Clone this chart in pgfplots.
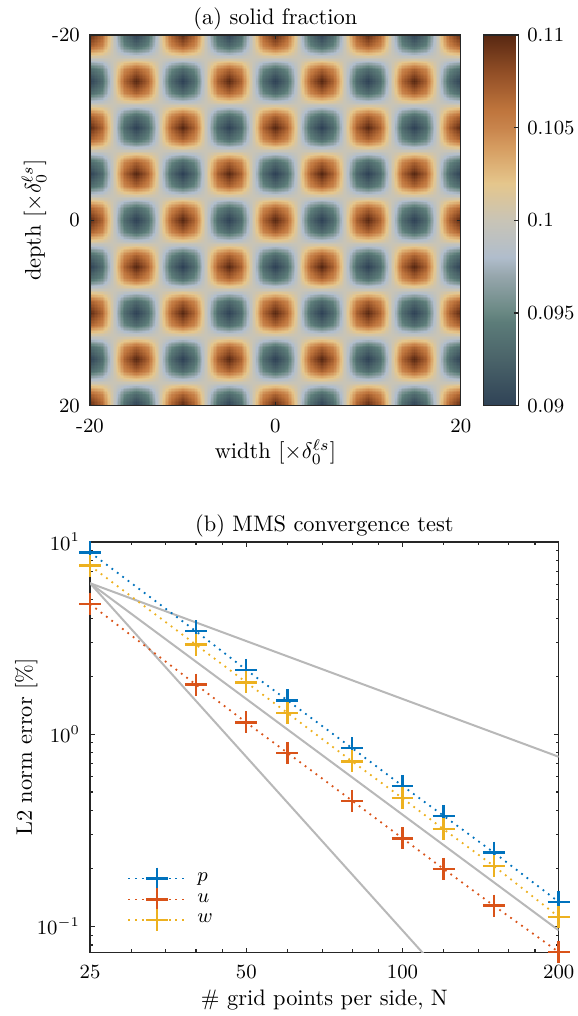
\documentclass[border=0pt]{standalone}
\usepackage{pgfplots}
\usepgfplotslibrary{patchplots}
\pgfplotsset{compat=1.18}
\definecolor{axgray}{RGB}{38,38,38}
\definecolor{mblue}{RGB}{0,114,189}
\definecolor{mred}{RGB}{217,83,25}
\definecolor{myel}{RGB}{237,177,32}
\definecolor{refgray}{RGB}{184,184,184}
\pgfplotsset{colormap={solidmap}{
 rgb255(0pt)=(47,66,86);
 rgb255(5pt)=(74,99,105);
 rgb255(9pt)=(92,124,121);
 rgb255(10pt)=(104,135,130);
 rgb255(14pt)=(150,166,172);
 rgb255(16pt)=(176,189,204);
 rgb255(20pt)=(200,196,182);
 rgb255(24pt)=(229,198,140);
 rgb255(28pt)=(213,155,95);
 rgb255(30pt)=(200,132,76);
 rgb255(32pt)=(190,116,60);
 rgb255(36pt)=(145,78,38);
 rgb255(40pt)=(88,40,18)
}}
\begin{document}
\begin{tikzpicture}
\path[use as bounding box] (0,0) rectangle (257.6pt,453.5pt);
\begin{axis}[
  at={(40.18pt,272.4pt)}, anchor=south west,
  scale only axis, width=165.5pt, height=165.5pt,
  xmin=0, xmax=32, ymin=0, ymax=32, y dir=reverse, enlargelimits=false,
  axis on top,
  xtick={0,16,32}, xticklabels={-20,0,20},
  ytick={0,16,32}, yticklabels={-20,0,20},
  tick align=inside, major tick length=1.65pt,
  tick label style={font=\small},
  xticklabel style={anchor=base, yshift=-11.8pt},
  yticklabel style={anchor=east, xshift=-1pt},
  axis line style={draw=axgray, line width=0.6pt},
  every tick/.style={draw=axgray, line width=0.5pt},
  title={(a) solid fraction},
  every axis title/.style={at={(axis description cs:0.5,1)}, anchor=base, yshift=4.8pt, inner sep=0pt},
  xlabel={width [$\times\delta_0^{\ell s}$]},
  xlabel style={at={(axis description cs:0.5,0)}, anchor=base, yshift=-23.6pt, inner sep=0pt},
  ylabel={depth [$\times\delta_0^{\ell s}$]},
  ylabel style={at={(axis description cs:-0.1329,0.5)}, anchor=base, inner sep=0pt},
  colormap name=solidmap,
  point meta min=0.09, point meta max=0.11,
  colorbar,
  colorbar style={
    at={(parent axis.north east)}, anchor=north west, xshift=1.6pt,
    scale only axis, width=15.6pt, height=165.5pt,
    ytick={0.09,0.095,0.1,0.105,0.11},
    yticklabels={0.09,0.095,0.1,0.105,0.11},
    ytick pos=right, yticklabel pos=right,
    tick align=inside, major tick length=1.8pt,
    yticklabel style={font=\small, anchor=west, xshift=0.4pt},
    axis line style={draw=axgray, line width=0.5pt},
    every tick/.style={draw=axgray, line width=0.5pt},
  },
]
\addplot[surf, shader=interp, patch type=bilinear, mesh/cols=33, point meta=explicit] table[x=x, y=y, meta=z] {
x y z
0 0 0.11
1 0 0.10707
2 0 0.1
3 0 0.09293
4 0 0.09
5 0 0.09293
6 0 0.1
7 0 0.10707
8 0 0.11
9 0 0.10707
10 0 0.1
11 0 0.09293
12 0 0.09
13 0 0.09293
14 0 0.1
15 0 0.10707
16 0 0.11
17 0 0.10707
18 0 0.1
19 0 0.09293
20 0 0.09
21 0 0.09293
22 0 0.1
23 0 0.10707
24 0 0.11
25 0 0.10707
26 0 0.1
27 0 0.09293
28 0 0.09
29 0 0.09293
30 0 0.1
31 0 0.10707
32 0 0.11

0 1 0.10707
1 1 0.105
2 1 0.1
3 1 0.095
4 1 0.09293
5 1 0.095
6 1 0.1
7 1 0.105
8 1 0.10707
9 1 0.105
10 1 0.1
11 1 0.095
12 1 0.09293
13 1 0.095
14 1 0.1
15 1 0.105
16 1 0.10707
17 1 0.105
18 1 0.1
19 1 0.095
20 1 0.09293
21 1 0.095
22 1 0.1
23 1 0.105
24 1 0.10707
25 1 0.105
26 1 0.1
27 1 0.095
28 1 0.09293
29 1 0.095
30 1 0.1
31 1 0.105
32 1 0.10707

0 2 0.1
1 2 0.1
2 2 0.1
3 2 0.1
4 2 0.1
5 2 0.1
6 2 0.1
7 2 0.1
8 2 0.1
9 2 0.1
10 2 0.1
11 2 0.1
12 2 0.1
13 2 0.1
14 2 0.1
15 2 0.1
16 2 0.1
17 2 0.1
18 2 0.1
19 2 0.1
20 2 0.1
21 2 0.1
22 2 0.1
23 2 0.1
24 2 0.1
25 2 0.1
26 2 0.1
27 2 0.1
28 2 0.1
29 2 0.1
30 2 0.1
31 2 0.1
32 2 0.1

0 3 0.09293
1 3 0.095
2 3 0.1
3 3 0.105
4 3 0.10707
5 3 0.105
6 3 0.1
7 3 0.095
8 3 0.09293
9 3 0.095
10 3 0.1
11 3 0.105
12 3 0.10707
13 3 0.105
14 3 0.1
15 3 0.095
16 3 0.09293
17 3 0.095
18 3 0.1
19 3 0.105
20 3 0.10707
21 3 0.105
22 3 0.1
23 3 0.095
24 3 0.09293
25 3 0.095
26 3 0.1
27 3 0.105
28 3 0.10707
29 3 0.105
30 3 0.1
31 3 0.095
32 3 0.09293

0 4 0.09
1 4 0.09293
2 4 0.1
3 4 0.10707
4 4 0.11
5 4 0.10707
6 4 0.1
7 4 0.09293
8 4 0.09
9 4 0.09293
10 4 0.1
11 4 0.10707
12 4 0.11
13 4 0.10707
14 4 0.1
15 4 0.09293
16 4 0.09
17 4 0.09293
18 4 0.1
19 4 0.10707
20 4 0.11
21 4 0.10707
22 4 0.1
23 4 0.09293
24 4 0.09
25 4 0.09293
26 4 0.1
27 4 0.10707
28 4 0.11
29 4 0.10707
30 4 0.1
31 4 0.09293
32 4 0.09

0 5 0.09293
1 5 0.095
2 5 0.1
3 5 0.105
4 5 0.10707
5 5 0.105
6 5 0.1
7 5 0.095
8 5 0.09293
9 5 0.095
10 5 0.1
11 5 0.105
12 5 0.10707
13 5 0.105
14 5 0.1
15 5 0.095
16 5 0.09293
17 5 0.095
18 5 0.1
19 5 0.105
20 5 0.10707
21 5 0.105
22 5 0.1
23 5 0.095
24 5 0.09293
25 5 0.095
26 5 0.1
27 5 0.105
28 5 0.10707
29 5 0.105
30 5 0.1
31 5 0.095
32 5 0.09293

0 6 0.1
1 6 0.1
2 6 0.1
3 6 0.1
4 6 0.1
5 6 0.1
6 6 0.1
7 6 0.1
8 6 0.1
9 6 0.1
10 6 0.1
11 6 0.1
12 6 0.1
13 6 0.1
14 6 0.1
15 6 0.1
16 6 0.1
17 6 0.1
18 6 0.1
19 6 0.1
20 6 0.1
21 6 0.1
22 6 0.1
23 6 0.1
24 6 0.1
25 6 0.1
26 6 0.1
27 6 0.1
28 6 0.1
29 6 0.1
30 6 0.1
31 6 0.1
32 6 0.1

0 7 0.10707
1 7 0.105
2 7 0.1
3 7 0.095
4 7 0.09293
5 7 0.095
6 7 0.1
7 7 0.105
8 7 0.10707
9 7 0.105
10 7 0.1
11 7 0.095
12 7 0.09293
13 7 0.095
14 7 0.1
15 7 0.105
16 7 0.10707
17 7 0.105
18 7 0.1
19 7 0.095
20 7 0.09293
21 7 0.095
22 7 0.1
23 7 0.105
24 7 0.10707
25 7 0.105
26 7 0.1
27 7 0.095
28 7 0.09293
29 7 0.095
30 7 0.1
31 7 0.105
32 7 0.10707

0 8 0.11
1 8 0.10707
2 8 0.1
3 8 0.09293
4 8 0.09
5 8 0.09293
6 8 0.1
7 8 0.10707
8 8 0.11
9 8 0.10707
10 8 0.1
11 8 0.09293
12 8 0.09
13 8 0.09293
14 8 0.1
15 8 0.10707
16 8 0.11
17 8 0.10707
18 8 0.1
19 8 0.09293
20 8 0.09
21 8 0.09293
22 8 0.1
23 8 0.10707
24 8 0.11
25 8 0.10707
26 8 0.1
27 8 0.09293
28 8 0.09
29 8 0.09293
30 8 0.1
31 8 0.10707
32 8 0.11

0 9 0.10707
1 9 0.105
2 9 0.1
3 9 0.095
4 9 0.09293
5 9 0.095
6 9 0.1
7 9 0.105
8 9 0.10707
9 9 0.105
10 9 0.1
11 9 0.095
12 9 0.09293
13 9 0.095
14 9 0.1
15 9 0.105
16 9 0.10707
17 9 0.105
18 9 0.1
19 9 0.095
20 9 0.09293
21 9 0.095
22 9 0.1
23 9 0.105
24 9 0.10707
25 9 0.105
26 9 0.1
27 9 0.095
28 9 0.09293
29 9 0.095
30 9 0.1
31 9 0.105
32 9 0.10707

0 10 0.1
1 10 0.1
2 10 0.1
3 10 0.1
4 10 0.1
5 10 0.1
6 10 0.1
7 10 0.1
8 10 0.1
9 10 0.1
10 10 0.1
11 10 0.1
12 10 0.1
13 10 0.1
14 10 0.1
15 10 0.1
16 10 0.1
17 10 0.1
18 10 0.1
19 10 0.1
20 10 0.1
21 10 0.1
22 10 0.1
23 10 0.1
24 10 0.1
25 10 0.1
26 10 0.1
27 10 0.1
28 10 0.1
29 10 0.1
30 10 0.1
31 10 0.1
32 10 0.1

0 11 0.09293
1 11 0.095
2 11 0.1
3 11 0.105
4 11 0.10707
5 11 0.105
6 11 0.1
7 11 0.095
8 11 0.09293
9 11 0.095
10 11 0.1
11 11 0.105
12 11 0.10707
13 11 0.105
14 11 0.1
15 11 0.095
16 11 0.09293
17 11 0.095
18 11 0.1
19 11 0.105
20 11 0.10707
21 11 0.105
22 11 0.1
23 11 0.095
24 11 0.09293
25 11 0.095
26 11 0.1
27 11 0.105
28 11 0.10707
29 11 0.105
30 11 0.1
31 11 0.095
32 11 0.09293

0 12 0.09
1 12 0.09293
2 12 0.1
3 12 0.10707
4 12 0.11
5 12 0.10707
6 12 0.1
7 12 0.09293
8 12 0.09
9 12 0.09293
10 12 0.1
11 12 0.10707
12 12 0.11
13 12 0.10707
14 12 0.1
15 12 0.09293
16 12 0.09
17 12 0.09293
18 12 0.1
19 12 0.10707
20 12 0.11
21 12 0.10707
22 12 0.1
23 12 0.09293
24 12 0.09
25 12 0.09293
26 12 0.1
27 12 0.10707
28 12 0.11
29 12 0.10707
30 12 0.1
31 12 0.09293
32 12 0.09

0 13 0.09293
1 13 0.095
2 13 0.1
3 13 0.105
4 13 0.10707
5 13 0.105
6 13 0.1
7 13 0.095
8 13 0.09293
9 13 0.095
10 13 0.1
11 13 0.105
12 13 0.10707
13 13 0.105
14 13 0.1
15 13 0.095
16 13 0.09293
17 13 0.095
18 13 0.1
19 13 0.105
20 13 0.10707
21 13 0.105
22 13 0.1
23 13 0.095
24 13 0.09293
25 13 0.095
26 13 0.1
27 13 0.105
28 13 0.10707
29 13 0.105
30 13 0.1
31 13 0.095
32 13 0.09293

0 14 0.1
1 14 0.1
2 14 0.1
3 14 0.1
4 14 0.1
5 14 0.1
6 14 0.1
7 14 0.1
8 14 0.1
9 14 0.1
10 14 0.1
11 14 0.1
12 14 0.1
13 14 0.1
14 14 0.1
15 14 0.1
16 14 0.1
17 14 0.1
18 14 0.1
19 14 0.1
20 14 0.1
21 14 0.1
22 14 0.1
23 14 0.1
24 14 0.1
25 14 0.1
26 14 0.1
27 14 0.1
28 14 0.1
29 14 0.1
30 14 0.1
31 14 0.1
32 14 0.1

0 15 0.10707
1 15 0.105
2 15 0.1
3 15 0.095
4 15 0.09293
5 15 0.095
6 15 0.1
7 15 0.105
8 15 0.10707
9 15 0.105
10 15 0.1
11 15 0.095
12 15 0.09293
13 15 0.095
14 15 0.1
15 15 0.105
16 15 0.10707
17 15 0.105
18 15 0.1
19 15 0.095
20 15 0.09293
21 15 0.095
22 15 0.1
23 15 0.105
24 15 0.10707
25 15 0.105
26 15 0.1
27 15 0.095
28 15 0.09293
29 15 0.095
30 15 0.1
31 15 0.105
32 15 0.10707

0 16 0.11
1 16 0.10707
2 16 0.1
3 16 0.09293
4 16 0.09
5 16 0.09293
6 16 0.1
7 16 0.10707
8 16 0.11
9 16 0.10707
10 16 0.1
11 16 0.09293
12 16 0.09
13 16 0.09293
14 16 0.1
15 16 0.10707
16 16 0.11
17 16 0.10707
18 16 0.1
19 16 0.09293
20 16 0.09
21 16 0.09293
22 16 0.1
23 16 0.10707
24 16 0.11
25 16 0.10707
26 16 0.1
27 16 0.09293
28 16 0.09
29 16 0.09293
30 16 0.1
31 16 0.10707
32 16 0.11

0 17 0.10707
1 17 0.105
2 17 0.1
3 17 0.095
4 17 0.09293
5 17 0.095
6 17 0.1
7 17 0.105
8 17 0.10707
9 17 0.105
10 17 0.1
11 17 0.095
12 17 0.09293
13 17 0.095
14 17 0.1
15 17 0.105
16 17 0.10707
17 17 0.105
18 17 0.1
19 17 0.095
20 17 0.09293
21 17 0.095
22 17 0.1
23 17 0.105
24 17 0.10707
25 17 0.105
26 17 0.1
27 17 0.095
28 17 0.09293
29 17 0.095
30 17 0.1
31 17 0.105
32 17 0.10707

0 18 0.1
1 18 0.1
2 18 0.1
3 18 0.1
4 18 0.1
5 18 0.1
6 18 0.1
7 18 0.1
8 18 0.1
9 18 0.1
10 18 0.1
11 18 0.1
12 18 0.1
13 18 0.1
14 18 0.1
15 18 0.1
16 18 0.1
17 18 0.1
18 18 0.1
19 18 0.1
20 18 0.1
21 18 0.1
22 18 0.1
23 18 0.1
24 18 0.1
25 18 0.1
26 18 0.1
27 18 0.1
28 18 0.1
29 18 0.1
30 18 0.1
31 18 0.1
32 18 0.1

0 19 0.09293
1 19 0.095
2 19 0.1
3 19 0.105
4 19 0.10707
5 19 0.105
6 19 0.1
7 19 0.095
8 19 0.09293
9 19 0.095
10 19 0.1
11 19 0.105
12 19 0.10707
13 19 0.105
14 19 0.1
15 19 0.095
16 19 0.09293
17 19 0.095
18 19 0.1
19 19 0.105
20 19 0.10707
21 19 0.105
22 19 0.1
23 19 0.095
24 19 0.09293
25 19 0.095
26 19 0.1
27 19 0.105
28 19 0.10707
29 19 0.105
30 19 0.1
31 19 0.095
32 19 0.09293

0 20 0.09
1 20 0.09293
2 20 0.1
3 20 0.10707
4 20 0.11
5 20 0.10707
6 20 0.1
7 20 0.09293
8 20 0.09
9 20 0.09293
10 20 0.1
11 20 0.10707
12 20 0.11
13 20 0.10707
14 20 0.1
15 20 0.09293
16 20 0.09
17 20 0.09293
18 20 0.1
19 20 0.10707
20 20 0.11
21 20 0.10707
22 20 0.1
23 20 0.09293
24 20 0.09
25 20 0.09293
26 20 0.1
27 20 0.10707
28 20 0.11
29 20 0.10707
30 20 0.1
31 20 0.09293
32 20 0.09

0 21 0.09293
1 21 0.095
2 21 0.1
3 21 0.105
4 21 0.10707
5 21 0.105
6 21 0.1
7 21 0.095
8 21 0.09293
9 21 0.095
10 21 0.1
11 21 0.105
12 21 0.10707
13 21 0.105
14 21 0.1
15 21 0.095
16 21 0.09293
17 21 0.095
18 21 0.1
19 21 0.105
20 21 0.10707
21 21 0.105
22 21 0.1
23 21 0.095
24 21 0.09293
25 21 0.095
26 21 0.1
27 21 0.105
28 21 0.10707
29 21 0.105
30 21 0.1
31 21 0.095
32 21 0.09293

0 22 0.1
1 22 0.1
2 22 0.1
3 22 0.1
4 22 0.1
5 22 0.1
6 22 0.1
7 22 0.1
8 22 0.1
9 22 0.1
10 22 0.1
11 22 0.1
12 22 0.1
13 22 0.1
14 22 0.1
15 22 0.1
16 22 0.1
17 22 0.1
18 22 0.1
19 22 0.1
20 22 0.1
21 22 0.1
22 22 0.1
23 22 0.1
24 22 0.1
25 22 0.1
26 22 0.1
27 22 0.1
28 22 0.1
29 22 0.1
30 22 0.1
31 22 0.1
32 22 0.1

0 23 0.10707
1 23 0.105
2 23 0.1
3 23 0.095
4 23 0.09293
5 23 0.095
6 23 0.1
7 23 0.105
8 23 0.10707
9 23 0.105
10 23 0.1
11 23 0.095
12 23 0.09293
13 23 0.095
14 23 0.1
15 23 0.105
16 23 0.10707
17 23 0.105
18 23 0.1
19 23 0.095
20 23 0.09293
21 23 0.095
22 23 0.1
23 23 0.105
24 23 0.10707
25 23 0.105
26 23 0.1
27 23 0.095
28 23 0.09293
29 23 0.095
30 23 0.1
31 23 0.105
32 23 0.10707

0 24 0.11
1 24 0.10707
2 24 0.1
3 24 0.09293
4 24 0.09
5 24 0.09293
6 24 0.1
7 24 0.10707
8 24 0.11
9 24 0.10707
10 24 0.1
11 24 0.09293
12 24 0.09
13 24 0.09293
14 24 0.1
15 24 0.10707
16 24 0.11
17 24 0.10707
18 24 0.1
19 24 0.09293
20 24 0.09
21 24 0.09293
22 24 0.1
23 24 0.10707
24 24 0.11
25 24 0.10707
26 24 0.1
27 24 0.09293
28 24 0.09
29 24 0.09293
30 24 0.1
31 24 0.10707
32 24 0.11

0 25 0.10707
1 25 0.105
2 25 0.1
3 25 0.095
4 25 0.09293
5 25 0.095
6 25 0.1
7 25 0.105
8 25 0.10707
9 25 0.105
10 25 0.1
11 25 0.095
12 25 0.09293
13 25 0.095
14 25 0.1
15 25 0.105
16 25 0.10707
17 25 0.105
18 25 0.1
19 25 0.095
20 25 0.09293
21 25 0.095
22 25 0.1
23 25 0.105
24 25 0.10707
25 25 0.105
26 25 0.1
27 25 0.095
28 25 0.09293
29 25 0.095
30 25 0.1
31 25 0.105
32 25 0.10707

0 26 0.1
1 26 0.1
2 26 0.1
3 26 0.1
4 26 0.1
5 26 0.1
6 26 0.1
7 26 0.1
8 26 0.1
9 26 0.1
10 26 0.1
11 26 0.1
12 26 0.1
13 26 0.1
14 26 0.1
15 26 0.1
16 26 0.1
17 26 0.1
18 26 0.1
19 26 0.1
20 26 0.1
21 26 0.1
22 26 0.1
23 26 0.1
24 26 0.1
25 26 0.1
26 26 0.1
27 26 0.1
28 26 0.1
29 26 0.1
30 26 0.1
31 26 0.1
32 26 0.1

0 27 0.09293
1 27 0.095
2 27 0.1
3 27 0.105
4 27 0.10707
5 27 0.105
6 27 0.1
7 27 0.095
8 27 0.09293
9 27 0.095
10 27 0.1
11 27 0.105
12 27 0.10707
13 27 0.105
14 27 0.1
15 27 0.095
16 27 0.09293
17 27 0.095
18 27 0.1
19 27 0.105
20 27 0.10707
21 27 0.105
22 27 0.1
23 27 0.095
24 27 0.09293
25 27 0.095
26 27 0.1
27 27 0.105
28 27 0.10707
29 27 0.105
30 27 0.1
31 27 0.095
32 27 0.09293

0 28 0.09
1 28 0.09293
2 28 0.1
3 28 0.10707
4 28 0.11
5 28 0.10707
6 28 0.1
7 28 0.09293
8 28 0.09
9 28 0.09293
10 28 0.1
11 28 0.10707
12 28 0.11
13 28 0.10707
14 28 0.1
15 28 0.09293
16 28 0.09
17 28 0.09293
18 28 0.1
19 28 0.10707
20 28 0.11
21 28 0.10707
22 28 0.1
23 28 0.09293
24 28 0.09
25 28 0.09293
26 28 0.1
27 28 0.10707
28 28 0.11
29 28 0.10707
30 28 0.1
31 28 0.09293
32 28 0.09

0 29 0.09293
1 29 0.095
2 29 0.1
3 29 0.105
4 29 0.10707
5 29 0.105
6 29 0.1
7 29 0.095
8 29 0.09293
9 29 0.095
10 29 0.1
11 29 0.105
12 29 0.10707
13 29 0.105
14 29 0.1
15 29 0.095
16 29 0.09293
17 29 0.095
18 29 0.1
19 29 0.105
20 29 0.10707
21 29 0.105
22 29 0.1
23 29 0.095
24 29 0.09293
25 29 0.095
26 29 0.1
27 29 0.105
28 29 0.10707
29 29 0.105
30 29 0.1
31 29 0.095
32 29 0.09293

0 30 0.1
1 30 0.1
2 30 0.1
3 30 0.1
4 30 0.1
5 30 0.1
6 30 0.1
7 30 0.1
8 30 0.1
9 30 0.1
10 30 0.1
11 30 0.1
12 30 0.1
13 30 0.1
14 30 0.1
15 30 0.1
16 30 0.1
17 30 0.1
18 30 0.1
19 30 0.1
20 30 0.1
21 30 0.1
22 30 0.1
23 30 0.1
24 30 0.1
25 30 0.1
26 30 0.1
27 30 0.1
28 30 0.1
29 30 0.1
30 30 0.1
31 30 0.1
32 30 0.1

0 31 0.10707
1 31 0.105
2 31 0.1
3 31 0.095
4 31 0.09293
5 31 0.095
6 31 0.1
7 31 0.105
8 31 0.10707
9 31 0.105
10 31 0.1
11 31 0.095
12 31 0.09293
13 31 0.095
14 31 0.1
15 31 0.105
16 31 0.10707
17 31 0.105
18 31 0.1
19 31 0.095
20 31 0.09293
21 31 0.095
22 31 0.1
23 31 0.105
24 31 0.10707
25 31 0.105
26 31 0.1
27 31 0.095
28 31 0.09293
29 31 0.095
30 31 0.1
31 31 0.105
32 31 0.10707

0 32 0.11
1 32 0.10707
2 32 0.1
3 32 0.09293
4 32 0.09
5 32 0.09293
6 32 0.1
7 32 0.10707
8 32 0.11
9 32 0.10707
10 32 0.1
11 32 0.09293
12 32 0.09
13 32 0.09293
14 32 0.1
15 32 0.10707
16 32 0.11
17 32 0.10707
18 32 0.1
19 32 0.09293
20 32 0.09
21 32 0.09293
22 32 0.1
23 32 0.10707
24 32 0.11
25 32 0.10707
26 32 0.1
27 32 0.09293
28 32 0.09
29 32 0.09293
30 32 0.1
31 32 0.10707
32 32 0.11
};
\end{axis}
\begin{axis}[
  at={(40.18pt,28.4pt)}, anchor=south west,
  scale only axis, width=209.2pt, height=183.2pt,
  xmode=log, ymode=log, xmin=25, xmax=200, ymin=0.0732, ymax=10,
  xtick={25,50,100,200}, xticklabels={25,50,100,200},
  minor xtick={30,35,40,45,60,70,80,90,120,140,160,180},
  ytick={0.1,1,10}, yticklabels={$10^{-1}$,$10^{0}$,$10^{1}$},
  minor ytick={0.08,0.09,0.2,0.3,0.4,0.5,0.6,0.7,0.8,0.9,2,3,4,5,6,7,8,9},
  tick align=inside, major tick length=2.1pt, minor tick length=1.4pt,
  tick label style={font=\small},
  xticklabel style={anchor=base, yshift=-11.8pt},
  yticklabel style={anchor=east, xshift=-1pt},
  axis line style={draw=axgray, line width=0.6pt},
  every tick/.style={draw=axgray, line width=0.5pt},
  title={(b) MMS convergence test},
  every axis title/.style={at={(axis description cs:0.5,1)}, anchor=base, yshift=4.8pt, inner sep=0pt},
  xlabel={\# grid points per side, N},
  xlabel style={at={(axis description cs:0.5,0)}, anchor=base, yshift=-23.6pt, inner sep=0pt},
  ylabel={L2 norm error [\%]},
  ylabel style={at={(axis description cs:-0.1243,0.5)}, anchor=base, inner sep=0pt},
  legend style={draw=none, fill=none, at={(axis description cs:0.079,0.129)}, anchor=west,
    inner xsep=0pt, inner ysep=0pt, nodes={inner sep=0pt, font=\small},
    row sep=-0.5pt, column sep=4.9pt},
  legend cell align=left,
  legend image code/.code={\draw[mark repeat=2,mark phase=2,#1] plot coordinates {(0pt,0pt) (12.75pt,0pt) (25.5pt,0pt)};},
]
\addplot[refgray, line width=0.9pt, forget plot] coordinates {(25,6.1) (200,0.7625)};
\addplot[refgray, line width=0.9pt, forget plot] coordinates {(25,6.1) (200,0.0953)};
\addplot[refgray, line width=0.9pt, forget plot] coordinates {(25,6.1) (200,0.01191)};
\addplot[mblue, line width=0.8pt, dash pattern=on 0.8pt off 2.2pt, mark=+, mark size=4.9pt, mark options={solid, line width=1.1pt}]
  coordinates {(25,8.83) (40,3.43) (50,2.16) (60,1.50) (80,0.845) (100,0.538) (120,0.376) (150,0.242) (200,0.134)};
\addlegendentry{$p$}
\addplot[mred, line width=0.8pt, dash pattern=on 0.8pt off 2.2pt, mark=+, mark size=4.9pt, mark options={solid, line width=1.1pt}]
  coordinates {(25,4.75) (40,1.81) (50,1.15) (60,0.80) (80,0.450) (100,0.287) (120,0.199) (150,0.128) (200,0.0735)};
\addlegendentry{$u$}
\addplot[myel, line width=0.8pt, dash pattern=on 0.8pt off 2.2pt, mark=+, mark size=4.9pt, mark options={solid, line width=1.1pt}]
  coordinates {(25,7.53) (40,2.92) (50,1.86) (60,1.29) (80,0.721) (100,0.464) (120,0.320) (150,0.206) (200,0.112)};
\addlegendentry{$w$}
\end{axis}
\end{tikzpicture}
\end{document}
